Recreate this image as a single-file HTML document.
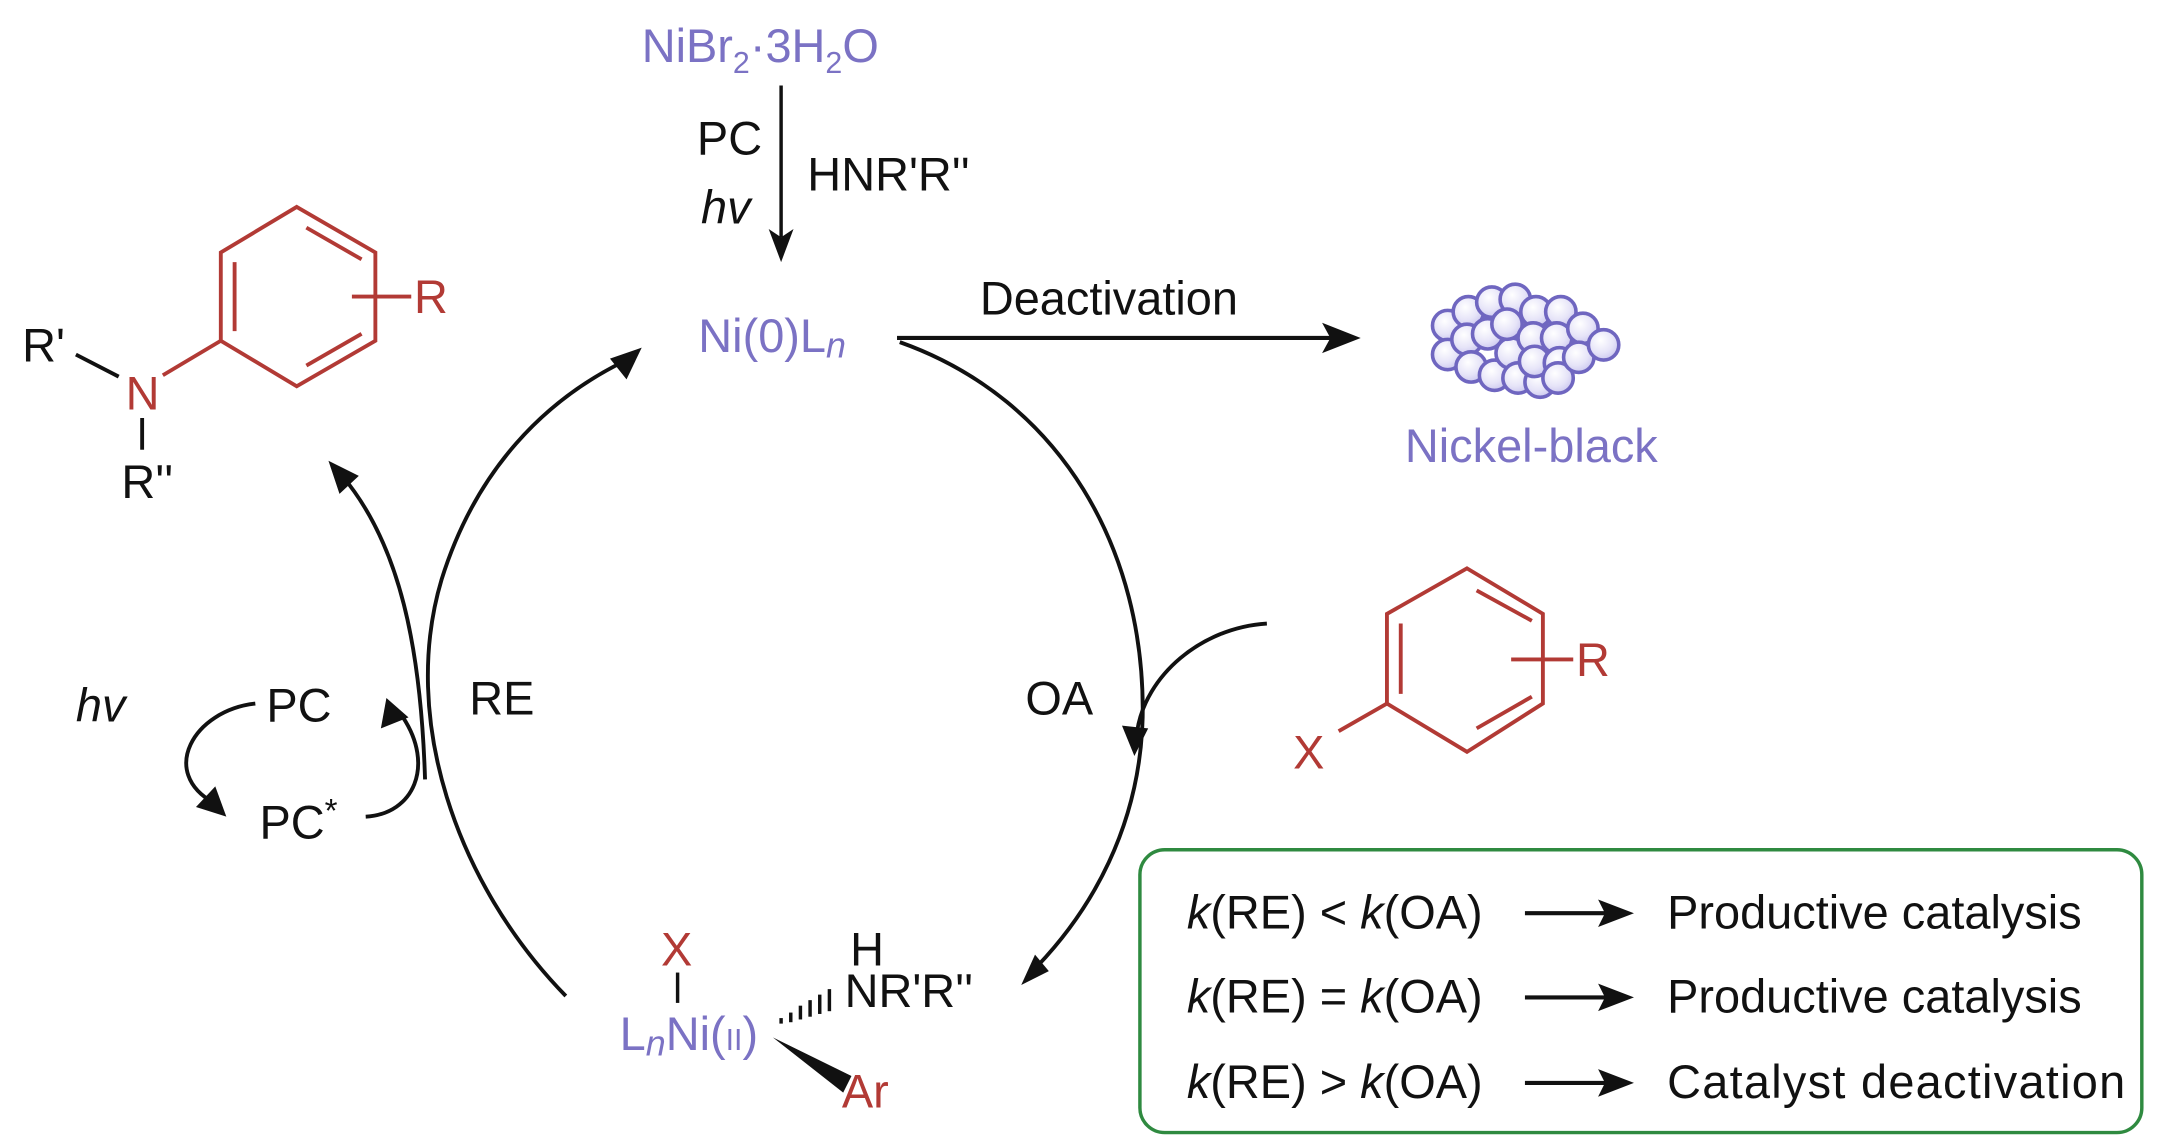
<!DOCTYPE html>
<html><head><meta charset="utf-8"><style>
html,body{margin:0;padding:0;background:#fff}
svg{display:block}
text{font-family:"Liberation Sans",Arial,sans-serif;font-size:34px}
.p{fill:#7b72c4}.r{fill:#b23a35}.k{fill:#111}
</style></head><body>
<svg width="2157" height="1145" viewBox="0 0 1563 830" preserveAspectRatio="none" xmlns="http://www.w3.org/2000/svg">
<defs>
<radialGradient id="g" cx="40%" cy="35%" r="70%"><stop offset="0" stop-color="#fff"/><stop offset="0.6" stop-color="#e6e4f8"/><stop offset="1" stop-color="#c9c5ee"/></radialGradient>
</defs>
<text x="465" y="45" class="p">NiBr<tspan font-size="22" dy="8">2</tspan><tspan dy="-8">·3H</tspan><tspan font-size="22" dy="8">2</tspan><tspan dy="-8">O</tspan></text>
<line x1="566" y1="62" x2="566" y2="172" stroke="#111" stroke-width="2.5"/>
<polygon points="557,166 566,190 575,166 566,172" fill="#111"/>
<text x="505" y="112" class="k">PC</text>
<text x="508" y="162" class="k" font-style="italic">hv</text>
<text x="585" y="138" class="k">HNR'R''</text>
<text x="506" y="255" class="p">Ni(0)L<tspan font-style="italic" font-size="26" dy="4">n</tspan></text>
<text x="710" y="228" class="k">Deactivation</text>
<line x1="650" y1="245" x2="965" y2="245" stroke="#111" stroke-width="3"/>
<polygon points="958,234 986,245 958,256 964,245" fill="#111"/>
<g fill="url(#g)" stroke="#6f66c0" stroke-width="2.6">
<circle cx="1049" cy="236" r="11"/><circle cx="1049" cy="257" r="11"/><circle cx="1064" cy="226" r="11"/><circle cx="1063" cy="246" r="11"/><circle cx="1066" cy="266" r="11"/>
<circle cx="1081" cy="219" r="11"/><circle cx="1078" cy="242" r="11"/><circle cx="1083" cy="272" r="11"/>
<circle cx="1098" cy="217" r="11"/><circle cx="1095" cy="256" r="11"/><circle cx="1100" cy="274" r="11"/>
<circle cx="1092" cy="235" r="11"/><circle cx="1113" cy="226" r="11"/><circle cx="1111" cy="245" r="11"/><circle cx="1116" cy="277" r="11"/>
<circle cx="1112" cy="262" r="11"/><circle cx="1131" cy="226" r="11"/><circle cx="1128" cy="245" r="11"/><circle cx="1130" cy="263" r="11"/><circle cx="1129" cy="274" r="11"/>
<circle cx="1147" cy="238" r="11"/><circle cx="1144" cy="259" r="11"/><circle cx="1162" cy="250" r="11"/>
</g>
<text x="1018" y="335" class="p">Nickel-black</text>
<g fill="none" stroke="#111" stroke-width="2.8">
<path d="M652,248 C770,290 830,400 828,520 C826,600 790,660 752,700"/>
<path d="M410,722 C330,640 290,520 320,420 C345,340 395,290 452,262"/>
<path d="M918,452 C870,455 830,490 824,530"/>
<path d="M308,565 C305,470 290,395 248,345"/>
<path d="M185,510 C140,515 115,560 155,582"/>
<path d="M265,592 C300,590 315,555 292,520"/>
</g>
<polygon points="465,252 442,260 454,275" fill="#111"/>
<polygon points="740,714 750,692 760,704" fill="#111"/>
<polygon points="822,548 813,526 832,528" fill="#111"/>
<polygon points="238,334 246,358 260,345" fill="#111"/>
<polygon points="164,592 142,585 156,570" fill="#111"/>
<polygon points="280,506 276,528 296,520" fill="#111"/>
<text x="743" y="518" class="k">OA</text>
<text x="340" y="518" class="k">RE</text>
<text x="55" y="523" class="k" font-style="italic">hv</text>
<text x="193" y="523" class="k">PC</text>
<text x="188" y="608" class="k">PC<tspan font-size="24" dy="-12">*</tspan></text>
<g stroke="#b23a35" stroke-width="2.8" fill="none">
<polygon points="215,150 272,183 272,247 215,280 160,247 160,183"/>
<line x1="222" y1="165" x2="262" y2="188"/><line x1="262" y1="242" x2="222" y2="265"/><line x1="170" y1="190" x2="170" y2="240"/>
<line x1="255" y1="215" x2="298" y2="215"/>
<line x1="118" y1="272" x2="160" y2="247"/>
</g>
<line x1="55" y1="257" x2="86" y2="273" stroke="#111" stroke-width="2.8"/>
<line x1="103" y1="303" x2="103" y2="326" stroke="#111" stroke-width="2.8"/>
<text x="16" y="262" class="k">R'</text>
<text x="91" y="297" class="r">N</text>
<text x="88" y="361" class="k">R''</text>
<text x="300" y="227" class="r">R</text>
<g stroke="#b23a35" stroke-width="2.8" fill="none">
<polygon points="1063,412 1118,445 1118,510 1063,545 1005,510 1005,445"/>
<line x1="1070" y1="428" x2="1110" y2="450"/><line x1="1110" y1="505" x2="1070" y2="528"/><line x1="1015" y1="452" x2="1015" y2="503"/>
<line x1="1095" y1="478" x2="1140" y2="478"/>
<line x1="970" y1="530" x2="1005" y2="510"/>
</g>
<text x="1142" y="490" class="r">R</text>
<text x="937" y="557" class="r">X</text>
<text x="479" y="700" class="r">X</text>
<line x1="491" y1="705" x2="491" y2="727" stroke="#111" stroke-width="2.5"/>
<text x="449" y="761" class="p">L<tspan font-style="italic" font-size="26" dy="4">n</tspan><tspan dy="-4">Ni(</tspan><tspan font-size="22">II</tspan>)</text>
<g stroke="#111" stroke-width="2.5">
<line x1="566" y1="738" x2="566" y2="742"/><line x1="573" y1="734" x2="573" y2="741"/><line x1="580" y1="729" x2="580" y2="739"/><line x1="587" y1="725" x2="587" y2="737"/><line x1="594" y1="721" x2="594" y2="735"/><line x1="601" y1="717" x2="601" y2="733"/>
</g>
<polygon points="560,752 617,780 611,792" fill="#111"/>
<text x="616" y="700" class="k">H</text>
<text x="612" y="730" class="k">NR'R''</text>
<text x="610" y="803" class="r">Ar</text>
<rect x="826" y="616" width="726" height="205" rx="18" fill="none" stroke="#2f8a40" stroke-width="2.5"/>
<g class="k" font-size="35">
<text x="860" y="673" font-size="35"><tspan font-style="italic">k</tspan>(RE) &lt; <tspan font-style="italic">k</tspan>(OA)</text>
<text x="860" y="734" font-size="35"><tspan font-style="italic">k</tspan>(RE) = <tspan font-style="italic">k</tspan>(OA)</text>
<text x="860" y="796" font-size="35"><tspan font-style="italic">k</tspan>(RE) &gt; <tspan font-style="italic">k</tspan>(OA)</text>
<text x="1208" y="673" font-size="35">Productive catalysis</text>
<text x="1208" y="734" font-size="35">Productive catalysis</text>
<text x="1208" y="796" font-size="35" textLength="332">Catalyst deactivation</text>
</g>
<g stroke="#111" stroke-width="3"><line x1="1105" y1="662" x2="1165" y2="662"/><line x1="1105" y1="723" x2="1165" y2="723"/><line x1="1105" y1="785" x2="1165" y2="785"/></g>
<g fill="#111"><polygon points="1158,652 1184,662 1158,672 1163,662"/><polygon points="1158,713 1184,723 1158,733 1163,723"/><polygon points="1158,775 1184,785 1158,795 1163,785"/></g>
</svg>
</body></html>
